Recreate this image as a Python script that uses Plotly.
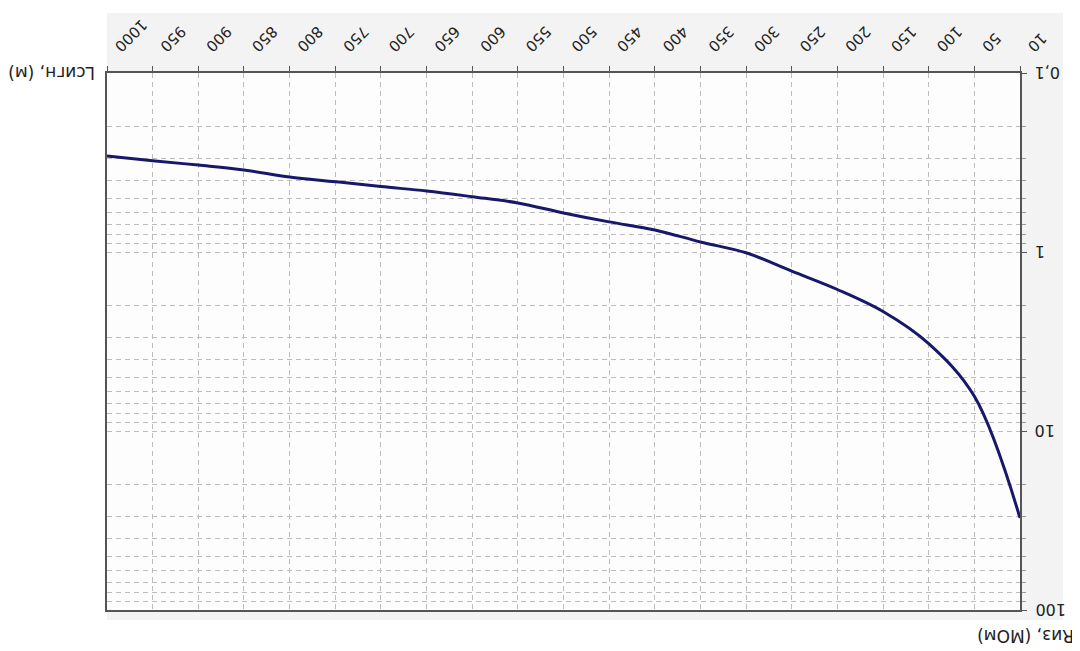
import math
import plotly.graph_objects as go

# Data (x categories, curve values on log axis)
x_labels = ["10", "50", "100", "150", "200", "250", "300", "350", "400", "450", "500",
            "550", "600", "650", "700", "750", "800", "850", "900", "950", "1000"]
y_values = [30.6, 6.4, 3.25, 2.15, 1.62, 1.28, 1.01, 0.879, 0.753, 0.679, 0.605,
            0.532, 0.491, 0.456, 0.431, 0.405, 0.381, 0.348, 0.327, 0.309, 0.291]
y_ticks = [0.1, 1, 10, 100]
y_ticktext = ["0,1", "1", "10", "100"]
y_minor = [0.2, 0.3, 0.4, 0.5, 0.6, 0.7, 0.8, 0.9,
           2, 3, 4, 5, 6, 7, 8, 9,
           20, 30, 40, 50, 60, 70, 80, 90]
x_title = "Rиз, (МОм)"
y_title = "Lсигн, (м)"

OFF = 8  # page body margin
W, H = 1080 - OFF, 651 - OFF
PL, PR, PT, PB = 107, 1020, 73, 610  # target plot box in page pixels
L, T = PL - OFF, PT - OFF
R = W - (PR - OFF)
B = H - (PB - OFF)
PW, PH = PR - PL, PB - PT


def px_x(p):
    return (p - PL) / PW


def px_y(p):
    return (PB - p) / PH


fig = go.Figure()
fig.add_trace(go.Scatter(
    x=x_labels, y=y_values, mode="lines",
    line=dict(color="#18186b", width=3, shape="spline", smoothing=1.0),
    hoverinfo="skip", showlegend=False,
))

gcol = "#bdbdbd"
gdash = "5px,4px"
font = dict(family="DejaVu Sans", size=15, color="#222222")
lblfont = dict(family="DejaVu Sans", size=16, color="#222222")

annotations = [
    dict(text=x_title, xref="paper", yref="paper",
         x=px_x(1026), y=px_y(636), xanchor="center", yanchor="middle",
         textangle=180, showarrow=False,
         font=dict(family="DejaVu Sans", size=17, color="#222222")),
    dict(text=y_title, xref="paper", yref="paper",
         x=px_x(52), y=px_y(73), xanchor="center", yanchor="middle",
         textangle=180, showarrow=False,
         font=dict(family="DejaVu Sans", size=17, color="#222222")),
]
for v, t in zip(y_ticks, y_ticktext):
    annotations.append(dict(
        text=t, xref="paper", yref="y", x=px_x(1033), y=math.log10(v),
        xanchor="left", yanchor="middle", textangle=180, showarrow=False,
        font=lblfont))

fig.update_layout(
    width=W, height=H,
    margin=dict(l=L, r=R, t=T, b=B, autoexpand=False),
    paper_bgcolor="white",
    plot_bgcolor="rgba(0,0,0,0)",
    font=font,
    xaxis=dict(
        type="category", side="top", range=[20, 0],
        tickangle=135, ticks="outside", ticklen=5, tickcolor="#555555",
        ticklabelstandoff=2, ticklabelshift=-12,
        showline=True, linecolor="#555555", linewidth=1.5, mirror=True,
        showgrid=True, gridcolor=gcol, gridwidth=1, griddash=gdash,
        tickfont=font, zeroline=False,
    ),
    yaxis=dict(
        type="log", side="right", range=[2, -1],
        tickvals=y_ticks, showticklabels=False,
        ticks="outside", ticklen=5, tickcolor="#555555",
        showline=True, linecolor="#555555", linewidth=1.5, mirror=True,
        showgrid=True, gridcolor=gcol, gridwidth=1, griddash=gdash,
        minor=dict(tickvals=y_minor, showgrid=True, gridcolor=gcol,
                   griddash=gdash, gridwidth=1, ticks="outside", ticklen=4,
                   tickcolor="#999999"),
        zeroline=False,
    ),
    shapes=[
        dict(type="rect", xref="paper", yref="paper", layer="below",
             x0=0, x1=px_x(1063), y0=px_y(620), y1=px_y(13),
             fillcolor="#f3f3f3", line=dict(width=0)),
        dict(type="rect", xref="paper", yref="paper", layer="below",
             x0=0, x1=1, y0=0, y1=1,
             fillcolor="#fdfdfd", line=dict(width=0)),
    ],
    annotations=annotations,
)

fig.write_html("out.html")
